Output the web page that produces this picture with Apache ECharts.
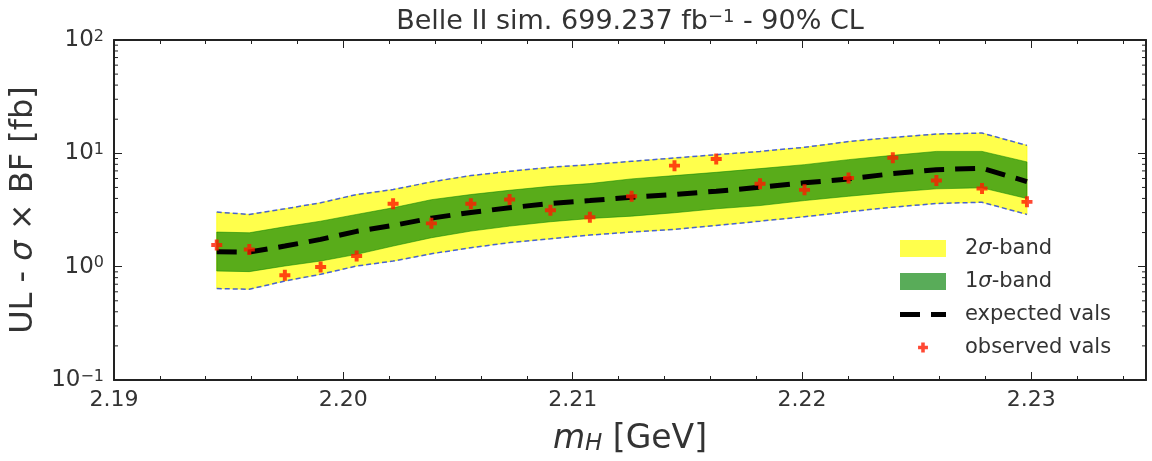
<!DOCTYPE html>
<html><head><meta charset="utf-8">
<script src="https://cdn.jsdelivr.net/npm/echarts@6/dist/echarts.min.js"></script>
<style>html,body{margin:0;padding:0;background:#fff}#c{width:1152px;height:461px}</style>
</head><body><div id="c"></div>
<script>
// ---- data ----
const massX = [2.19448, 2.19590, 2.19745, 2.19901, 2.20058, 2.20217, 2.20384, 2.20556, 2.20725, 2.20903, 2.21075,
               2.21257, 2.21444, 2.21626, 2.21817, 2.22011, 2.22203, 2.22396, 2.22586, 2.22785, 2.22981];
const expectedVals = [1.356, 1.345, 1.52, 1.74, 2.05, 2.31, 2.68, 3.01, 3.31, 3.61, 3.83,
                      4.10, 4.33, 4.63, 5.02, 5.49, 5.95, 6.62, 7.18, 7.40, 5.63];
const up1 = [2.02, 1.99, 2.25, 2.52, 2.89, 3.31, 3.90, 4.33, 4.72, 5.12, 5.41,
             5.95, 6.36, 6.80, 7.33, 7.95, 8.80, 9.60, 10.4, 10.4, 8.40];
const lo1 = [0.915, 0.904, 1.013, 1.121, 1.284, 1.52, 1.80, 2.06, 2.28, 2.49, 2.66,
             2.79, 2.99, 3.24, 3.46, 3.83, 4.18, 4.54, 4.86, 4.96, 3.99];
const up2 = [3.03, 2.89, 3.24, 3.66, 4.33, 4.79, 5.60, 6.36, 6.94, 7.53, 7.95,
             8.50, 9.10, 9.73, 10.4, 11.3, 12.7, 13.8, 14.8, 15.1, 11.75];
const lo2 = [0.641, 0.632, 0.747, 0.856, 1.013, 1.12, 1.30, 1.47, 1.63, 1.76, 1.90,
             2.02, 2.13, 2.31, 2.52, 2.76, 3.05, 3.35, 3.61, 3.70, 2.89];
const observedVals = [1.55, 1.42, 0.839, 0.993, 1.24, 3.59, 2.41, 3.59, 3.91, 3.15, 2.73,
                      4.18, 7.79, 8.92, 5.38, 4.76, 6.07, 9.16, 5.77, 4.89, 3.73];
const legendNames = ['2σ-band', '1σ-band', 'expected vals', 'observed vals'];
const yDecades = [0.1, 1, 10];
const yMinorMultipliers = [2, 3, 4, 5, 6, 7, 8, 9];

const X_MIN = 2.19, X_MAX = 2.235, X_MAJOR = 0.01, X_MINOR = 0.002;
const Y_MIN = 0.1, Y_MAX = 100;

const F = "'DejaVu Sans', sans-serif";
const TXT = '#333';
const AX = '#222';

const yMinorTicks = [];
yDecades.forEach(d => yMinorMultipliers.forEach(m => yMinorTicks.push(d * m)));

const plusPath = 'path://M3.2,0H6.8V3.2H10V6.8H6.8V10H3.2V6.8H0V3.2H3.2Z';
const legendPlus = 'path://M-3.6,-3.6M13.6,13.6M3.2,0H6.8V3.2H10V6.8H6.8V10H3.2V6.8H0V3.2H3.2Z';
const legendDash = 'path://M0,0H20V5H0ZM31,0H46V5H31Z';

function bandSeries(name, lo, hi, fill, stroke, z) {
  return {
    type: 'custom', name: name, z: z, clip: true, silent: true,
    itemStyle: { color: fill },
    data: massX.map((x, i) => [x, lo[i], hi[i]]),
    encode: { x: 0, y: [1, 2] },
    renderItem: function (params, api) {
      if (params.dataIndex !== 0) return null;
      const pts = [];
      for (let i = 0; i < massX.length; i++) pts.push(api.coord([massX[i], hi[i]]));
      for (let i = massX.length - 1; i >= 0; i--) pts.push(api.coord([massX[i], lo[i]]));
      return { type: 'polygon', shape: { points: pts }, style: { fill: fill, stroke: stroke, lineWidth: 1 } };
    }
  };
}

function edgeLine(vals) {
  return {
    type: 'line', z: 2, silent: true, symbol: 'none',
    data: massX.map((x, i) => [x, vals[i]]),
    lineStyle: { color: 'rgba(40,70,235,0.85)', width: 1.5, type: [5, 3] }
  };
}

const tickStyle = { color: AX, width: 1 };
const lineStyle = { color: AX, width: 2 };

const option = {
  animation: false,
  backgroundColor: '#fff',
  grid: { left: 114, right: 6, top: 40, bottom: 80, containLabel: false },
  legend: {
    data: [
      { name: legendNames[0], icon: 'rect' },
      { name: legendNames[1], icon: 'rect' },
      { name: legendNames[2], icon: legendDash },
      { name: legendNames[3], icon: legendPlus }
    ],
    orient: 'vertical', left: 900, top: 238, padding: 0,
    itemWidth: 46, itemHeight: 17, itemGap: 12,
    selectedMode: false,
    formatter: n => n.replace('σ', '{i|σ}'),
    textStyle: { fontSize: 21, color: TXT, fontFamily: F, padding: [0, 0, 0, 14],
      rich: { i: { fontSize: 21, color: TXT, fontFamily: F, fontStyle: 'italic' } } }
  },
  xAxis: [
    { type: 'value', min: X_MIN, max: X_MAX, interval: X_MAJOR, position: 'bottom',
      axisLine: { show: true, lineStyle: lineStyle },
      axisTick: { show: true, inside: true, length: 8, lineStyle: tickStyle },
      axisLabel: { formatter: v => v.toFixed(2), showMaxLabel: false, showMinLabel: true, margin: 9,
                   fontSize: 22, color: TXT, fontFamily: F },
      splitLine: { show: false },
      name: '{i|m}{sub|H} [GeV]', nameLocation: 'middle', nameGap: 43,
      nameTextStyle: { fontSize: 33, color: TXT, fontFamily: F,
        rich: { i: { fontSize: 33, color: TXT, fontFamily: F, fontStyle: 'italic' },
                sub: { fontSize: 23, color: TXT, fontFamily: F, fontStyle: 'italic', verticalAlign: 'bottom' } } } },
    { type: 'value', min: X_MIN, max: X_MAX, interval: X_MINOR, position: 'bottom',
      axisLine: { show: false }, axisTick: { show: true, inside: true, length: 4, lineStyle: tickStyle },
      axisLabel: { show: false }, splitLine: { show: false } },
    { type: 'value', min: X_MIN, max: X_MAX, interval: X_MAJOR, position: 'top',
      axisLine: { show: true, lineStyle: lineStyle },
      axisTick: { show: true, inside: true, length: 8, lineStyle: tickStyle },
      axisLabel: { show: false }, splitLine: { show: false },
      name: 'Belle II sim. 699.237 fb{sup|−1} - 90% CL', nameLocation: 'middle', nameGap: 5,
      nameTextStyle: { fontSize: 27, color: TXT, fontFamily: F,
        rich: { sup: { fontSize: 18, lineHeight: 18, color: TXT, fontFamily: F, verticalAlign: 'top' } } } },
    { type: 'value', min: X_MIN, max: X_MAX, interval: X_MINOR, position: 'top',
      axisLine: { show: false }, axisTick: { show: true, inside: true, length: 4, lineStyle: tickStyle },
      axisLabel: { show: false }, splitLine: { show: false } }
  ],
  yAxis: [
    { type: 'log', logBase: 10, min: Y_MIN, max: Y_MAX, position: 'left',
      axisLine: { show: true, lineStyle: lineStyle },
      axisTick: { show: true, inside: true, length: 8, lineStyle: tickStyle },
      axisLabel: { margin: 10, fontSize: 23, color: TXT, fontFamily: F,
        formatter: v => { const e = Math.round(Math.log10(v)); return '10{sup|' + (e < 0 ? '−' + (-e) : e) + '}'; },
        rich: { sup: { fontSize: 16, color: TXT, fontFamily: F, verticalAlign: 'top' } } },
      splitLine: { show: false },
      name: 'UL - {i|σ} × BF [fb]', nameLocation: 'middle', nameRotate: 90, nameGap: 74,
      nameTextStyle: { fontSize: 32, color: TXT, fontFamily: F,
        rich: { i: { fontSize: 32, color: TXT, fontFamily: F, fontStyle: 'italic' } } } },
    { type: 'log', logBase: 10, min: Y_MIN, max: Y_MAX, position: 'right',
      axisLine: { show: true, lineStyle: lineStyle },
      axisTick: { show: true, inside: true, length: 8, lineStyle: tickStyle },
      axisLabel: { show: false }, splitLine: { show: false } }
  ],
  series: [
    bandSeries(legendNames[0], lo2, up2, 'rgba(255,255,0,0.7)', 'rgba(255,255,0,0.7)', 1),
    edgeLine(up2),
    edgeLine(lo2),
    bandSeries(legendNames[1], lo1, up1, 'rgba(0,128,0,0.65)', 'rgba(0,128,0,0.5)', 3),
    { type: 'line', name: legendNames[2], z: 4, symbol: 'none', silent: true,
      data: massX.map((x, i) => [x, expectedVals[i]]),
      itemStyle: { color: '#000' },
      lineStyle: { color: '#000', width: 5, type: [20, 11] } },
    { type: 'scatter', name: legendNames[3], z: 5, symbol: plusPath, symbolSize: 11, silent: true,
      data: massX.map((x, i) => [x, observedVals[i]]),
      itemStyle: { color: '#ff1a00' } },
    { type: 'custom', z: 6, clip: false, silent: true,
      data: yMinorTicks.map(v => [X_MIN, v]),
      encode: { x: 0, y: 1 },
      renderItem: function (params, api) {
        const v = api.value(1);
        const pl = api.coord([X_MIN, v]);
        const pr = api.coord([X_MAX, v]);
        return { type: 'group', children: [
          { type: 'line', shape: { x1: pl[0], y1: pl[1], x2: pl[0] + 4, y2: pl[1] }, style: { stroke: AX, lineWidth: 1 } },
          { type: 'line', shape: { x1: pr[0], y1: pr[1], x2: pr[0] - 4, y2: pr[1] }, style: { stroke: AX, lineWidth: 1 } }
        ] };
      } }
  ]
};

const chart = echarts.init(document.getElementById('c'), null, { renderer: 'canvas' });
chart.setOption(option);
</script>
</body></html>
